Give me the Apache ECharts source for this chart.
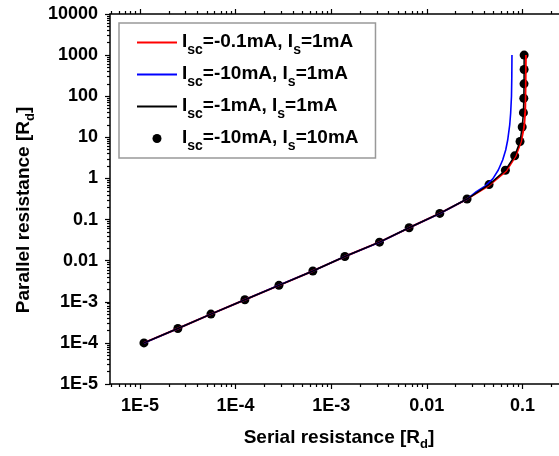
<!DOCTYPE html>
<html><head><meta charset="utf-8">
<script src="https://cdn.jsdelivr.net/npm/echarts@6/dist/echarts.min.js"></script>
<style>html,body{margin:0;padding:0;background:#fff}#c{width:559px;height:456px}</style>
</head><body><div id="c"></div>
<script>
// axis ranges and tick labels
const xMin = 4.855e-6, xMax = 0.3;
const yMin = 1e-5, yMax = 1e4;
const xTickExponents = [-5, -4, -3, -2, -1];
const xTickLabels = ['1E-5', '1E-4', '1E-3', '0.01', '0.1'];
const yTickExponents = [-5, -4, -3, -2, -1, 0, 1, 2, 3, 4];
const yTickLabels = ['1E-5', '1E-4', '1E-3', '0.01', '0.1', '1', '10', '100', '1000', '10000'];

// legend parts: [Isc, Is]
const legendParts = [['-0.1mA', '1mA'], ['-10mA', '1mA'], ['-1mA', '1mA'], ['-10mA', '10mA']];
const seriesNames = legendParts.map(p => 'Isc=' + p[0] + ', Is=' + p[1]);

// Isc=-0.1mA, Is=1mA (red)
const redX = [1.10e-5, 2.49e-5, 5.52e-5, 1.25e-4, 2.84e-4, 6.43e-4, 1.39e-3, 3.2e-3, 6.53e-3, 0.01368, 0.02637, 0.0449, 0.0677, 0.0851, 0.0972, 0.1044, 0.1070, 0.1080, 0.1088];
const redY = [1e-4, 2.24e-4, 5.01e-4, 1.12e-3, 2.51e-3, 5.62e-3, 0.0126, 0.0282, 0.0631, 0.141, 0.316, 0.68, 1.52, 3.52, 8.1, 18.9, 43.6, 222, 1000];

// Isc=-10mA, Is=1mA (blue)
const blueX = [1.10e-5, 2.49e-5, 5.52e-5, 1.25e-4, 2.84e-4, 6.43e-4, 1.39e-3, 3.2e-3, 6.53e-3, 0.01368, 0.02637, 0.0330, 0.0410, 0.0490, 0.0560, 0.0622, 0.0669, 0.0702, 0.0737, 0.0754, 0.0769, 0.0775, 0.0778];
const blueY = [1e-4, 2.24e-4, 5.01e-4, 1.12e-3, 2.51e-3, 5.62e-3, 0.0126, 0.0282, 0.0631, 0.141, 0.316, 0.475, 0.66, 0.98, 1.60, 2.81, 4.92, 8.6, 20, 39, 100, 300, 1000];

// Isc=-1mA, Is=1mA (black line)
const blackX = [1.10e-5, 2.49e-5, 5.52e-5, 1.25e-4, 2.84e-4, 6.43e-4, 1.39e-3, 3.2e-3, 6.53e-3, 0.01368, 0.02637, 0.0448, 0.0664, 0.0831, 0.0945, 0.0995, 0.1025, 0.1035, 0.1040, 0.1042, 0.1043];
const blackY = [1e-4, 2.24e-4, 5.01e-4, 1.12e-3, 2.51e-3, 5.62e-3, 0.0126, 0.0282, 0.0631, 0.141, 0.316, 0.708, 1.585, 3.55, 7.94, 17.8, 39.8, 89.1, 200, 447, 1000];

// Isc=-10mA, Is=10mA (dots)
const dotX = [1.10e-5, 2.49e-5, 5.52e-5, 1.25e-4, 2.84e-4, 6.43e-4, 1.39e-3, 3.2e-3, 6.53e-3, 0.01368, 0.02637, 0.0448, 0.0664, 0.0831, 0.0945, 0.0995, 0.1025, 0.1035, 0.1040, 0.1042, 0.1043];
const dotY = [1e-4, 2.24e-4, 5.01e-4, 1.12e-3, 2.51e-3, 5.62e-3, 0.0126, 0.0282, 0.0631, 0.141, 0.316, 0.708, 1.585, 3.55, 7.94, 17.8, 39.8, 89.1, 200, 447, 1000];

const FONT = '"Liberation Sans", Arial, sans-serif';
const pair = (xs, ys) => xs.map((x, i) => [x, ys[i]]);

// log-spaced minor tick positions (in exponent units) for decoration axes
function minorTicks(lo, hi) {
  const out = [];
  for (let n = Math.floor(lo) - 1; n <= Math.ceil(hi); n++) {
    for (let k = 2; k <= 9; k++) {
      const v = n + Math.log10(k);
      if (v >= lo && v <= hi) out.push(v);
    }
  }
  return out;
}
const xLo = Math.log10(xMin), xHi = Math.log10(xMax);
const yLo = Math.log10(yMin), yHi = Math.log10(yMax);
const xMinor = minorTicks(xLo, xHi);
const yMinor = minorTicks(yLo, yHi);

function labelFor(exps, labels) {
  return v => {
    const e = Math.log10(v);
    const r = Math.round(e);
    const i = exps.indexOf(r);
    if (i < 0 || Math.abs(e - r) > 1e-6) return '';
    return labels[i];
  };
}

const gridRect = { left: 110, top: 14, right: -9, bottom: 72, containLabel: false, outerBoundsMode: 'none' };
const tickStyle = { color: '#000', width: 1.2 };

function tickX(gridIndex, position, values, length) {
  return {
    type: 'value', gridIndex, position, min: xLo, max: xHi,
    axisLine: { show: false, onZero: false }, axisLabel: { show: false }, splitLine: { show: false },
    axisTick: { show: true, inside: false, length, customValues: values, lineStyle: tickStyle }
  };
}
function tickY(gridIndex, position, values, length) {
  return {
    type: 'value', gridIndex, position, min: yLo, max: yHi,
    axisLine: { show: false, onZero: false }, axisLabel: { show: false }, splitLine: { show: false },
    axisTick: { show: true, inside: false, length, customValues: values, lineStyle: tickStyle }
  };
}

const nameRich = {
  nm: { fontFamily: FONT, fontWeight: 'bold', fontSize: 19, color: '#000', lineHeight: 22, verticalAlign: 'top' },
  ns: { fontFamily: FONT, fontWeight: 'bold', fontSize: 13, color: '#000', lineHeight: 13, padding: [11, 0, 0, 0] }
};

const option = {
  animation: false,
  backgroundColor: '#fff',
  textStyle: { fontFamily: FONT },
  grid: [Object.assign({}, gridRect), Object.assign({}, gridRect), Object.assign({}, gridRect)],
  xAxis: [
    {
      type: 'log', logBase: 10, gridIndex: 0, position: 'bottom', min: xMin, max: xMax,
      name: '{nm|Serial resistance [R}{ns|d}{nm|]}', nameLocation: 'middle', nameGap: 44,
      nameTextStyle: { rich: nameRich },
      axisLine: { show: true, onZero: false, lineStyle: { color: '#000', width: 1.5 } },
      axisTick: { show: false },
      splitLine: { show: false }, minorTick: { show: false },
      axisLabel: { show: true, margin: 13, color: '#000', fontFamily: FONT, fontWeight: 'bold', fontSize: 18,
        showMinLabel: true, showMaxLabel: true, hideOverlap: false,
        formatter: labelFor(xTickExponents, xTickLabels) }
    },
    {
      type: 'log', logBase: 10, gridIndex: 0, position: 'top', min: xMin, max: xMax,
      axisLine: { show: true, onZero: false, lineStyle: { color: '#000', width: 1.5 } },
      axisTick: { show: false }, axisLabel: { show: false }, splitLine: { show: false }
    },
    tickX(1, 'bottom', xTickExponents, 5),
    tickX(1, 'top', xTickExponents, 5),
    tickX(2, 'bottom', xMinor, 3),
    tickX(2, 'top', xMinor, 3)
  ],
  yAxis: [
    {
      type: 'log', logBase: 10, gridIndex: 0, position: 'left', min: yMin, max: yMax, interval: 1,
      name: '{nm|Parallel resistance [R}{ns|d}{nm|]}', nameLocation: 'middle', nameGap: 73, nameRotate: 90,
      nameTextStyle: { rich: nameRich, padding: [0, 22, 0, 0] },
      axisLine: { show: true, onZero: false, lineStyle: { color: '#000', width: 1.5 } },
      axisTick: { show: true, inside: false, length: 5, lineStyle: tickStyle },
      splitLine: { show: false }, minorTick: { show: false },
      axisLabel: { show: true, margin: 12, color: '#000', fontFamily: FONT, fontWeight: 'bold', fontSize: 18,
        showMinLabel: true, showMaxLabel: true, hideOverlap: false,
        formatter: labelFor(yTickExponents, yTickLabels) }
    },
    tickY(1, 'left', yMinor, 3),
    tickY(2, 'left', [], 3)
  ],
  legend: {
    orient: 'vertical', left: 119, top: 23,
    padding: [5, 17, 5, 17],
    itemWidth: 40, itemHeight: 9, itemGap: 3,
    borderColor: '#999', borderWidth: 1.5, backgroundColor: '#fff',
    selectedMode: false,
    textStyle: {
      color: '#000', fontFamily: FONT, fontWeight: 'bold', fontSize: 19,
      rich: {
        m: { fontFamily: FONT, fontWeight: 'bold', fontSize: 19, color: '#000', lineHeight: 20, verticalAlign: 'top' },
        s: { fontFamily: FONT, fontWeight: 'bold', fontSize: 14, color: '#000', lineHeight: 14, padding: [15, 0, 0, 0] }
      }
    },
    formatter: name => {
      const p = legendParts[seriesNames.indexOf(name)];
      return '{m|I}{s|sc}{m|=' + p[0] + ', I}{s|s}{m|=' + p[1] + '}';
    },
    data: [
      { name: seriesNames[0], itemStyle: { opacity: 0 } },
      { name: seriesNames[1], itemStyle: { opacity: 0 } },
      { name: seriesNames[2], itemStyle: { opacity: 0 } },
      { name: seriesNames[3] }
    ]
  },
  series: [
    { name: seriesNames[0], type: 'line', xAxisIndex: 0, yAxisIndex: 0, data: pair(redX, redY),
      symbol: 'none', showSymbol: false, lineStyle: { color: '#ff0000', width: 2 }, itemStyle: { color: '#ff0000' } },
    { name: seriesNames[1], type: 'line', xAxisIndex: 0, yAxisIndex: 0, data: pair(blueX, blueY),
      symbol: 'none', showSymbol: false, lineStyle: { color: '#0000ff', width: 1.6 }, itemStyle: { color: '#0000ff' } },
    { name: seriesNames[2], type: 'line', xAxisIndex: 0, yAxisIndex: 0, data: pair(blackX, blackY),
      symbol: 'none', showSymbol: false, lineStyle: { color: '#000', width: 1.5 }, itemStyle: { color: '#000' } },
    { name: seriesNames[3], type: 'scatter', xAxisIndex: 0, yAxisIndex: 0, data: pair(dotX, dotY),
      symbol: 'circle', symbolSize: 9, itemStyle: { color: '#000', opacity: 1 } }
  ]
};

const chart = echarts.init(document.getElementById('c'), null, { renderer: 'canvas' });
chart.setOption(option);
</script>
</body></html>
